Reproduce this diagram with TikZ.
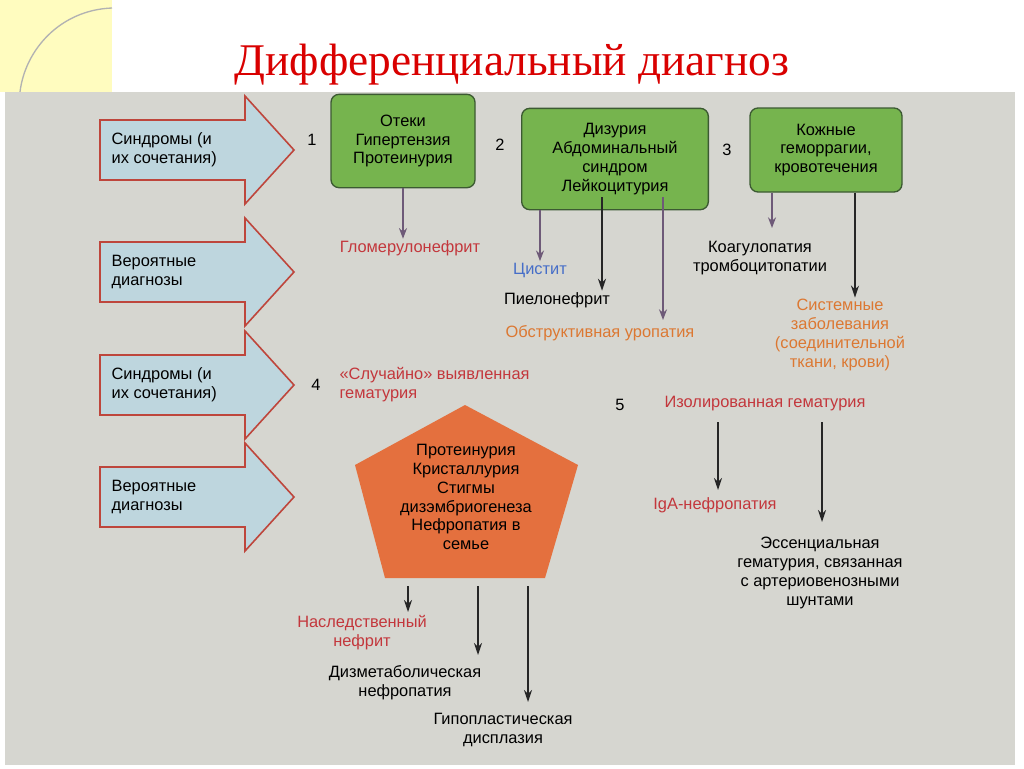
\documentclass[tikz,border=0pt]{standalone}
\usepackage{fontspec}
\setmainfont{Liberation Sans}
\newfontfamily\titlefont{Liberation Serif}
\usetikzlibrary{shapes.geometric,arrows.meta}
\definecolor{bgg}{RGB}{214,214,208}
\definecolor{ablue}{RGB}{190,214,222}
\definecolor{abord}{RGB}{190,70,60}
\definecolor{gfill}{RGB}{118,180,78}
\definecolor{gbord}{RGB}{60,90,50}
\definecolor{ofill}{RGB}{228,112,62}
\definecolor{tred}{RGB}{195,55,60}
\definecolor{torange}{RGB}{220,120,50}
\definecolor{tblue}{RGB}{70,110,200}
\definecolor{arr}{RGB}{110,90,120}
\begin{document}
\begin{tikzpicture}[x=0.75pt,y=-0.75pt,
  lbl/.style={font=\fontsize{12.3}{14.2}\selectfont,align=center,inner sep=1pt},
  side/.style={lbl,anchor=west,align=left},
  gbox/.style={draw=gbord,line width=1pt,fill=gfill,rounded corners=6pt,lbl},
  dn/.style={-{Stealth[length=8pt,width=6pt]},line width=1.2pt,color=arr},
  dk/.style={-{Stealth[length=9pt,width=6pt]},line width=1.3pt,black!85},
  bigarr/.style={draw=abord,line width=1.2pt,fill=ablue}]
\useasboundingbox (0,0) rectangle (1024,768);
\fill[white] (0,0) rectangle (1024,768);
\fill[yellow!25] (0,0) rectangle (112,92);
\draw[gray!60,line width=1pt] (112,8) .. controls (60,10) and (25,50) .. (20,92);
\fill[bgg] (5,92) rectangle (1015,765);
\node[font=\titlefont\fontsize{34}{40}\selectfont,text=red!85!black] (title) at (512,65) {Дифференциальный диагноз};
% side arrows
\foreach \y/\t [count=\i] in {150/{Синдромы (и\\их сочетания)},272/{Вероятные\\диагнозы},385/{Синдромы (и\\их сочетания)},497/{Вероятные\\диагнозы}}{
  \draw[bigarr] (100,\y-30) -- (245,\y-30) -- (245,\y-54) -- (294,\y) -- (245,\y+54) -- (245,\y+30) -- (100,\y+30) -- cycle;
  \node[side] (s\i) at (110,\y) {\t};
}
\node[gbox,minimum width=108pt,minimum height=70pt] (b1) at (403,141) {Отеки\\Гипертензия\\Протеинурия};
\node[gbox,minimum width=140pt,minimum height=76pt] (b2) at (615,159) {Дизурия\\Абдоминальный\\синдром\\Лейкоцитурия};
\node[gbox,minimum width=114pt,minimum height=63pt] (b3) at (826,150) {Кожные\\геморрагии,\\кровотечения};
\node[lbl] (n1) at (312,140) {1};
\node[lbl] (n2) at (500,145) {2};
\node[lbl] (n3) at (727,150) {3};
\node[lbl] (n4) at (316,385) {4};
\node[lbl] (n5) at (620,405) {5};
\node[lbl,text=tred] (glom) at (410,248) {Гломерулонефрит};
\node[lbl,text=tblue] (cys) at (540,270) {Цистит};
\node[lbl] (pyel) at (557,300) {Пиелонефрит};
\node[lbl,text=torange] (obs) at (600,333) {Обструктивная уропатия};
\node[lbl] (coag) at (760,258) {Коагулопатия\\тромбоцитопатии};
\node[lbl,text=torange] (sys) at (840,335) {Системные\\заболевания\\(соединительной\\ткани, крови)};
\node[lbl,text=tred,anchor=west,align=left] (rand) at (338,385) {«Случайно» выявленная\\гематурия};
\node[lbl,text=tred] (iso) at (765,404) {Изолированная гематурия};
\fill[ofill] (465,405) -- (578,465) -- (545,578) -- (385,578) -- (355,465) -- cycle;
\node[lbl] (pt) at (466,497) {Протеинурия\\Кристаллурия\\Стигмы\\дизэмбриогенеза\\Нефропатия в\\семье};
\node[lbl,text=tred] (her) at (362,633) {Наследственный\\нефрит};
\node[lbl] (dis) at (405,683) {Дизметаболическая\\нефропатия};
\node[lbl] (hyp) at (503,730) {Гипопластическая\\дисплазия};
\node[lbl,text=tred] (iga) at (715,505) {IgA-нефропатия};
\node[lbl] (ess) at (820,573) {Эссенциальная\\гематурия, связанная\\с артериовенозными\\шунтами};
\draw[dn] (b1.south) -- (glom.north -| b1.south);
\draw[dn] (b2.south -| cys) -- (cys.north);
\draw[dk] (602,197) -- (pyel.north -| 602,0);
\draw[dn] (663,197) -- (663,320);
\draw[dn] (b3.south -| 772,0) -- (772,228);
\draw[dk] (b3.south -| 855,0) -- (sys.north -| 855,0);
\draw[dk] (408,586) -- (408,612);
\draw[dk] (478,586) -- (478,655);
\draw[dk] (528,586) -- (528,702);
\draw[dk] (718,422) -- (718,490);
\draw[dk] (822,422) -- (822,522);
\end{tikzpicture}
\end{document}
